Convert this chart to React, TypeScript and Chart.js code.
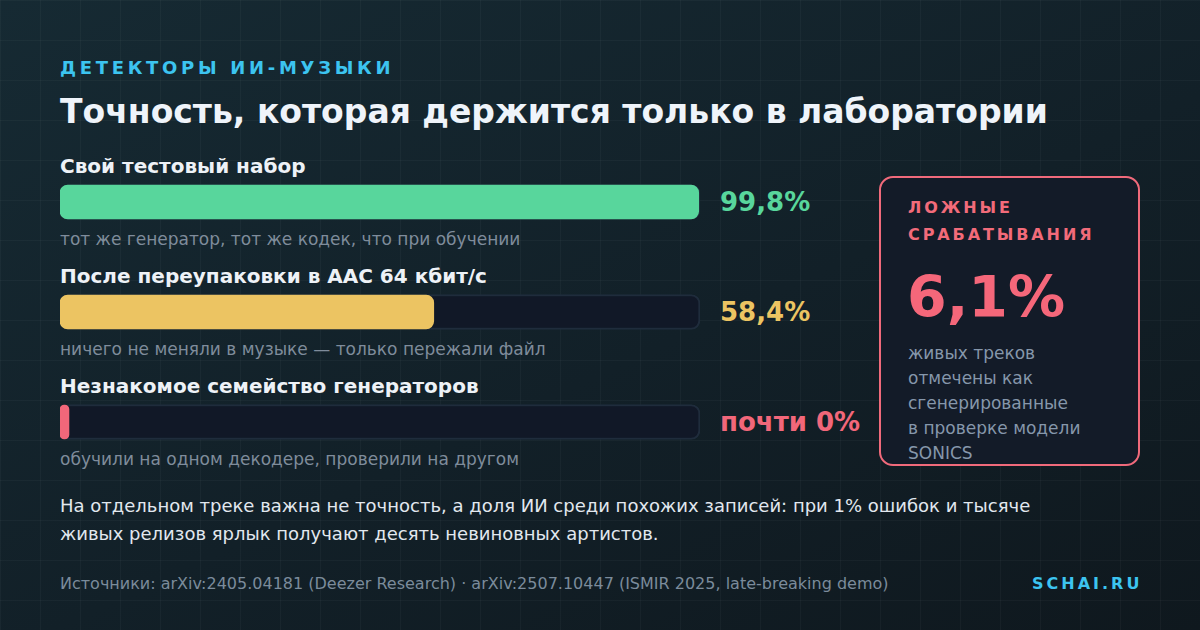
import React, { useEffect, useRef } from "react";
import { Chart, registerables } from "chart.js";

Chart.register(...registerables);

const categories = [
  "Свой тестовый набор",
  "После переупаковки в AAC 64 кбит/с",
  "Незнакомое семейство генераторов",
];
const notes = [
  "тот же генератор, тот же кодек, что при обучении",
  "ничего не меняли в музыке — только пережали файл",
  "обучили на одном декодере, проверили на другом",
];
const accuracy = [99.8, 58.4, 1.4];
const valueLabels = ["99,8%", "58,4%", "почти 0%"];
const barColors = ["#58d69c", "#ecc462", "#f2677a"];
const trackMax = [100, 100, 100];

const falsePositiveLabel = ["ЛОЖНЫЕ", "СРАБАТЫВАНИЯ"];
const falsePositiveValue = "6,1%";
const falsePositiveNote = [
  "живых треков",
  "отмечены как",
  "сгенерированные",
  "в проверке модели",
  "SONICS",
];

const FONT = "'DejaVu Sans', sans-serif";

function T(props: {
  x: number;
  cy: number;
  size: number;
  color: string;
  bold?: boolean;
  ls?: number;
  lh?: number;
  children: React.ReactNode;
}) {
  const lh = props.lh ?? props.size * 1.4;
  return (
    <div
      style={{
        position: "absolute",
        left: props.x,
        top: props.cy - lh / 2,
        fontSize: props.size,
        lineHeight: lh + "px",
        fontWeight: props.bold ? 700 : 400,
        letterSpacing: props.ls ?? 0,
        color: props.color,
        whiteSpace: "nowrap",
      }}
    >
      {props.children}
    </div>
  );
}

function Bars() {
  const ref = useRef<HTMLCanvasElement | null>(null);

  useEffect(() => {
    let chart: Chart<"bar"> | null = null;
    if (ref.current) {
      chart = new Chart(ref.current, {
        type: "bar",
        data: {
          labels: categories,
          datasets: [
            {
              data: accuracy,
              backgroundColor: barColors,
              borderWidth: 0,
              borderRadius: 8,
              borderSkipped: false,
              barThickness: 34,
              grouped: false,
            },
            {
              data: trackMax,
              backgroundColor: "#111827",
              borderColor: "#1f2c3c",
              borderWidth: 2,
              borderRadius: 9,
              borderSkipped: false,
              barThickness: 35,
              grouped: false,
            },
          ],
        },
        options: {
          indexAxis: "y",
          animation: false,
          responsive: true,
          maintainAspectRatio: false,
          layout: { padding: 0 },
          plugins: { legend: { display: false }, tooltip: { enabled: false } },
          scales: {
            x: { display: false, min: 0, max: 100 },
            y: { display: false },
          },
        },
      });
    }
    return () => {
      if (chart) chart.destroy();
    };
  }, []);

  return (
    <div style={{ position: "absolute", left: 60, top: 147, width: 640, height: 330 }}>
      <canvas ref={ref}></canvas>
    </div>
  );
}

export default function App() {
  const grid =
    "linear-gradient(rgba(255,255,255,0.03) 1px, transparent 1px), linear-gradient(90deg, rgba(255,255,255,0.03) 1px, transparent 1px)";
  return (
    <div
      style={{
        position: "fixed",
        left: 0,
        top: 0,
        width: 1200,
        height: 630,
        overflow: "hidden",
        fontFamily: FONT,
        background: `${grid}, linear-gradient(155deg, #162a33 0%, #122028 55%, #0f181e 100%)`,
        backgroundSize: "40px 40px, 40px 40px, 100% 100%",
      }}
    >
      <T x={60} cy={68} size={18} color="#3cc4f0" bold ls={3.7}>
        ДЕТЕКТОРЫ ИИ-МУЗЫКИ
      </T>
      <T x={60} cy={112.5} size={33} color="#eff4fa" bold>
        Точность, которая держится только в лаборатории
      </T>

      {categories.map((c, i) => (
        <React.Fragment key={c}>
          <T x={60} cy={165.5 + i * 110} size={20} color="#eef2f7" bold>
            {c}
          </T>
          <T x={60} cy={240 + i * 110} size={17} color="#7f8c9b">
            {notes[i]}
          </T>
          <T x={720} cy={202.5 + i * 110} size={26} color={barColors[i]} bold>
            {valueLabels[i]}
          </T>
        </React.Fragment>
      ))}

      <Bars />

      <div
        style={{
          position: "absolute",
          left: 879,
          top: 176,
          width: 261,
          height: 290,
          boxSizing: "border-box",
          border: "2px solid #f06a7b",
          borderRadius: 14,
          background: "#131b28",
        }}
      />
      {falsePositiveLabel.map((s, i) => (
        <T key={s} x={908} cy={208 + i * 27} size={16} color="#f26b7a" bold ls={2.9}>
          {s}
        </T>
      ))}
      <T x={907} cy={297} size={57} color="#f5677a" bold lh={70}>
        {falsePositiveValue}
      </T>
      {falsePositiveNote.map((s, i) => (
        <T key={s} x={908} cy={353.5 + i * 25} size={17} color="#8697ab" lh={25}>
          {s}
        </T>
      ))}

      <T x={60} cy={505.5} size={18} color="#e2e8ef" lh={28}>
        На отдельном треке важна не точность, а доля ИИ среди похожих записей: при 1% ошибок и тысяче
      </T>
      <T x={60} cy={533.5} size={18} color="#e2e8ef" lh={28}>
        живых релизов ярлык получают десять невиновных артистов.
      </T>
      <T x={60} cy={584.5} size={16} color="#7b8b9b">
        Источники: arXiv:2405.04181 (Deezer Research) · arXiv:2507.10447 (ISMIR 2025, late-breaking demo)
      </T>
      <T x={1032} cy={584} size={16} color="#3cc4f0" bold ls={3}>
        SCHAI.RU
      </T>
    </div>
  );
}
